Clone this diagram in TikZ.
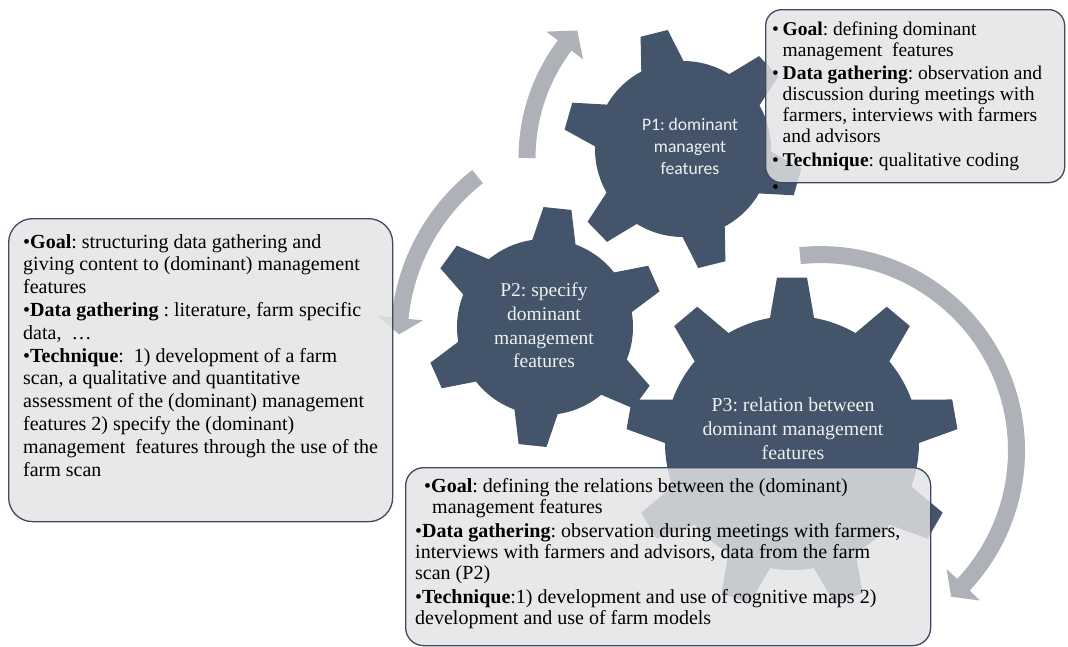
\documentclass[tikz,border=0pt]{standalone}
\usepackage{fontspec}
\setmainfont{Liberation Serif}
\newfontfamily\gearsans{Carlito}
\usetikzlibrary{calc}
\frenchspacing

\definecolor{gearblue}{HTML}{44546A}
\definecolor{arrowgray}{HTML}{AEB1B8}
\definecolor{boxfill}{HTML}{E4E4E6}
\definecolor{boxline}{HTML}{3F4B5C}
\definecolor{gearlabelcol}{HTML}{F0F0F0}

\tikzset{
  gearbody/.style={fill=gearblue},
  arrowband/.style={draw=arrowgray, line width=17pt},
  arrowtip/.style={fill=arrowgray},
  infobox/.style={draw=boxline, line width=1.3pt, fill=boxfill, fill opacity=0.82,
                  rounded corners=#1, inner sep=0pt, anchor=north west},
  gearlabel/.style={text=gearlabelcol, align=center, inner sep=0pt},
  infotext/.style={anchor=north west, align=left, inner sep=0pt, text=black},
}

% gear outline: #1 centre, #2 teeth, #3 angle of first tooth,
% #4 body radius, #5 tip radius, #6 half-angle at root, #7 half-angle at tip
\newcommand{\gearshape}[7]{%
  \fill[gearbody] ($(#1)+({#3-#6}:#4)$)
  \foreach \k in {1,...,#2}{
    -- ($(#1)+({#3+(\k-1)*360/#2-#7}:#5)$)
    -- ($(#1)+({#3+(\k-1)*360/#2+#7}:#5)$)
    -- ($(#1)+({#3+(\k-1)*360/#2+#6}:#4)$)
    arc[start angle={#3+(\k-1)*360/#2+#6}, end angle={#3+\k*360/#2-#6}, radius=#4]
  } -- cycle;}

% curved arrow: #1 centre, #2 radius, #3 tail angle, #4 end of band,
% #5 angle of head base, #6 angle of tip, #7 half width of head
\newcommand{\cyclearrow}[7]{%
  \draw[arrowband] ($(#1)+(#3:#2)$) arc[start angle=#3, end angle=#4, radius=#2];
  \fill[arrowtip] ($(#1)+(#5:{#2-#7})$) -- ($(#1)+(#6:#2)$)
                  -- ($(#1)+(#5:{#2+#7})$) -- cycle;}

\newcommand{\bul}{\makebox[10.5pt][l]{•}}

\begin{document}
\begin{tikzpicture}[x=1pt,y=-1pt]
\useasboundingbox (0,0) rectangle (1068,646);
\fill[white] (0,0) rectangle (1068,646);

% centres of the gears and of the circular arrows
\coordinate (gearCone) at (683,149);
\coordinate (gearCtwo) at (545,327);
\coordinate (gearCthree) at (792,443);
\coordinate (loopA) at (714,158);
\coordinate (loopB) at (605.5,338.6);
\coordinate (loopC) at (820.5,450.6);

% circular arrows
\cyclearrow{loopA}{187}{180}{217.5}{217}{223}{23}
\cyclearrow{loopB}{206.5}{231.7}{185.2}{185.7}{181.2}{23}
\cyclearrow{loopC}{196}{-96}{43.7}{43.2}{48.2}{23}

% gears
\gearshape{gearCthree}{9}{-90}{127}{166}{10}{5.2}
\gearshape{gearCtwo}{6}{-84}{88}{120}{14.3}{6.7}
\gearshape{gearCone}{6}{-44}{88}{120}{14.3}{6.7}

% gear labels
\node[gearlabel, font=\gearsans\fontsize{17.6}{21.6}\selectfont] (labelPone) at (690,146.5)
  {P1: dominant\\managent\\features};
\node[gearlabel, font=\rmfamily\fontsize{19.5}{23.9}\selectfont] (labelPtwo) at (544,325.3)
  {P2: specify\\dominant\\management\\features};
\node[gearlabel, font=\rmfamily\fontsize{19.8}{23.8}\selectfont] (labelPthree) at (793,428.5)
  {P3: relation between\\dominant management\\features};

% description boxes
\node[infobox=16pt, minimum width=299pt, minimum height=173pt] (boxPone) at (765,9) {};
\node[infobox=24pt, minimum width=384pt, minimum height=303pt] (boxPtwo) at (8,218) {};
\node[infobox=18pt, minimum width=525pt, minimum height=178pt] (boxPthree) at (405,467) {};

% box texts
\node[infotext, font=\rmfamily\fontsize{19.5}{21}\selectfont] (textPone) at (772,20.3)
  {\strut\bul\textbf{Goal}: defining dominant\\
   \hspace*{10.5pt}management~ features\\[2.5pt]
   \bul\textbf{Data gathering}: observation and\\
   \hspace*{10.5pt}discussion during meetings with\\
   \hspace*{10.5pt}farmers, interviews with farmers\\
   \hspace*{10.5pt}and advisors\\[2.5pt]
   \bul\textbf{Technique}: qualitative coding};
\node[anchor=base west, inner sep=0pt, font=\rmfamily\fontsize{19.5}{21}\selectfont] (strayDot) at (772,193) {•};

\node[infotext, font=\rmfamily\fontsize{20}{22.8}\selectfont] (textPtwo) at (23,232)
  {\strut•\textbf{Goal}: structuring data gathering and\\
   giving content to (dominant) management\\
   features\\
   •\textbf{Data gathering} : literature, farm specific\\
   data,~ …\\
   •\textbf{Technique}:~ 1) development of a farm\\
   scan, a qualitative and quantitative\\
   assessment of the (dominant) management\\
   features 2) specify the (dominant)\\
   management~ features through the use of the\\
   farm scan};

\node[infotext, font=\rmfamily\fontsize{20}{21}\selectfont] (textPthree) at (415,477.3)
  {\strut\hspace*{9pt}•\textbf{Goal}: defining the relations between the (dominant)\\
   \hspace*{17pt}management features\\[3.5pt]
   •\textbf{Data gathering}: observation during meetings with farmers,\\
   interviews with farmers and advisors, data from the farm\\
   scan (P2)\\[3pt]
   •\textbf{Technique}:1) development and use of cognitive maps 2)\\
   development and use of farm models};
\end{tikzpicture}
\end{document}
